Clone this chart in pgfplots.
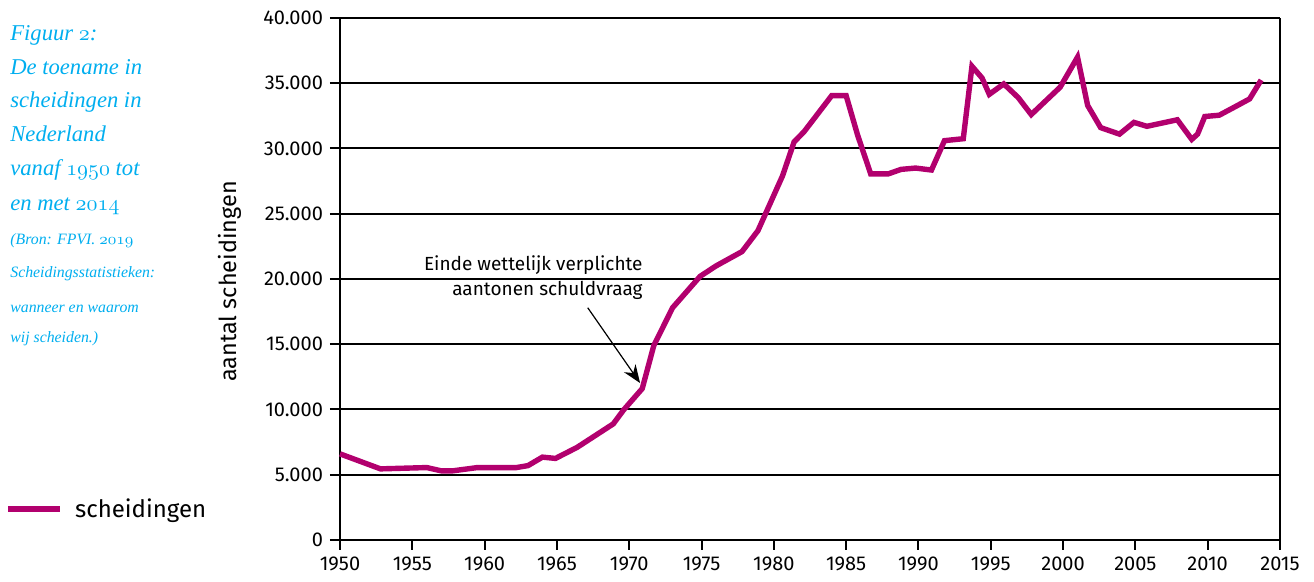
\documentclass[border=0pt]{standalone}
\usepackage{pgfplots}
\pgfplotsset{compat=1.18}
\usepackage{fontspec}
\setsansfont{Fira Sans}
\newfontfamily\cyfont{Liberation Serif}
\usetikzlibrary{arrows.meta}
\definecolor{lijn}{RGB}{178,0,110}
\definecolor{cyaan}{RGB}{0,174,239}
\newcommand{\osf}[1]{{\fontencoding{OML}\fontfamily{cmm}\fontseries{m}\fontshape{it}\selectfont #1}}
\begin{document}
\begin{tikzpicture}
\path[use as bounding box] (-170pt,-21pt) rectangle (487pt,270pt);
\begin{axis}[
  at={(0pt,0pt)}, anchor=south west,
  scale only axis, width=470pt, height=261pt,
  xmin=1950, xmax=2015, ymin=0, ymax=40000,
  xtick={1950,1955,...,2015},
  ytick={0,5000,...,40000},
  axis x line*=bottom, axis y line*=left,
  axis line style={-, line width=1pt, black},
  tick align=outside, major tick length=5pt,
  tick style={black, line width=1pt},
  ymajorgrids, major grid style={black, line width=1pt},
  scaled y ticks=false,
  /pgf/number format/assume math mode=true,
  x tick label style={/pgf/number format/1000 sep={}},
  y tick label style={/pgf/number format/1000 sep={.}},
  tick label style={font=\sffamily\fontsize{10}{12}\selectfont},
  ylabel={aantal scheidingen},
  ylabel style={font=\sffamily\fontsize{11.7}{14}\selectfont, at={(axis description cs:-0.117,0.495)}, anchor=center},
  legend style={draw=none, fill=none, inner sep=0pt, at={(axis description cs:-0.356,0.059)}, anchor=west,
    nodes={inner sep=0pt, font=\sffamily\fontsize{12}{14}\selectfont}},
  legend image code/.code={\draw[#1] (0pt,0pt) -- (26pt,0pt);},
  legend cell align=left,
  clip=false,
]
\addplot[lijn, line width=2.7pt] coordinates {
(1950,6600) (1952.8,5450) (1956,5550) (1957,5300) (1957.8,5300) (1959.5,5550)
(1962.2,5550) (1963,5700) (1964,6350) (1964.9,6250) (1966.4,7100) (1968.9,8900)
(1969.6,9950) (1970.9,11600) (1971.7,14900) (1973,17800) (1974.9,20200) (1976,21000)
(1977.8,22100) (1978.9,23700) (1980.6,27900) (1981.4,30500) (1982.1,31300) (1984,34050)
(1985,34050) (1985.8,31000) (1986.7,28050) (1987.9,28050) (1988.8,28400) (1989.8,28500)
(1990.9,28350) (1991.8,30600) (1993.1,30750) (1993.7,36300) (1994.4,35400) (1994.9,34150)
(1995.9,34950) (1996.9,33900) (1997.8,32600) (1999.8,34700) (2001,37000) (2001.7,33300)
(2002.6,31600) (2003.9,31100) (2004.9,32000) (2005.8,31700) (2007.9,32200) (2008.9,30700)
(2009.3,31100) (2009.8,32450) (2010.8,32550) (2011.9,33200) (2012.9,33800) (2013.7,35250)
};
\addlegendentry{\hspace{6pt}scheidingen}
\draw[black, line width=0.6pt] (rel axis cs:1,0) -- (rel axis cs:1,1);
\draw[black, line width=0.6pt, -{Stealth[length=9pt,width=7pt]}] (axis cs:1967.13,17800) -- (axis cs:1970.75,12030);
\node[align=right, anchor=north east, inner sep=0pt, font=\sffamily\fontsize{9.5}{12.3}\selectfont]
  at (axis cs:1970.95,21800) {Einde wettelijk verplichte\\aantonen schuldvraag};
\end{axis}
\begin{scope}[every node/.style={anchor=base west, inner sep=0pt, text=cyaan}]
\node[font=\cyfont\itshape\fontsize{11.3}{14}\selectfont] at (-165pt,249.65pt) {Figuur \osf{2}:};
\node[font=\cyfont\itshape\fontsize{11.3}{14}\selectfont] at (-165pt,232.5pt) {De toename in};
\node[font=\cyfont\itshape\fontsize{11.3}{14}\selectfont] at (-165pt,216pt) {scheidingen in};
\node[font=\cyfont\itshape\fontsize{11.3}{14}\selectfont] at (-165pt,199.15pt) {Nederland};
\node[font=\cyfont\itshape\fontsize{11.3}{14}\selectfont] at (-165pt,182pt) {vanaf \osf{1950} tot};
\node[font=\cyfont\itshape\fontsize{11.3}{14}\selectfont] at (-165pt,164.65pt) {en met \osf{2014}};
\node[font=\cyfont\itshape\fontsize{7.9}{10}\selectfont] at (-165pt,147.5pt) {(Bron: FPVI. \osf{2019}};
\node[font=\cyfont\itshape\fontsize{7.9}{10}\selectfont] at (-165pt,131pt) {Scheidingsstatistieken:};
\node[font=\cyfont\itshape\fontsize{7.9}{10}\selectfont] at (-165pt,113.5pt) {wanneer en waarom};
\node[font=\cyfont\itshape\fontsize{7.9}{10}\selectfont] at (-165pt,98.5pt) {wij scheiden.)};
\end{scope}
\end{tikzpicture}
\end{document}
